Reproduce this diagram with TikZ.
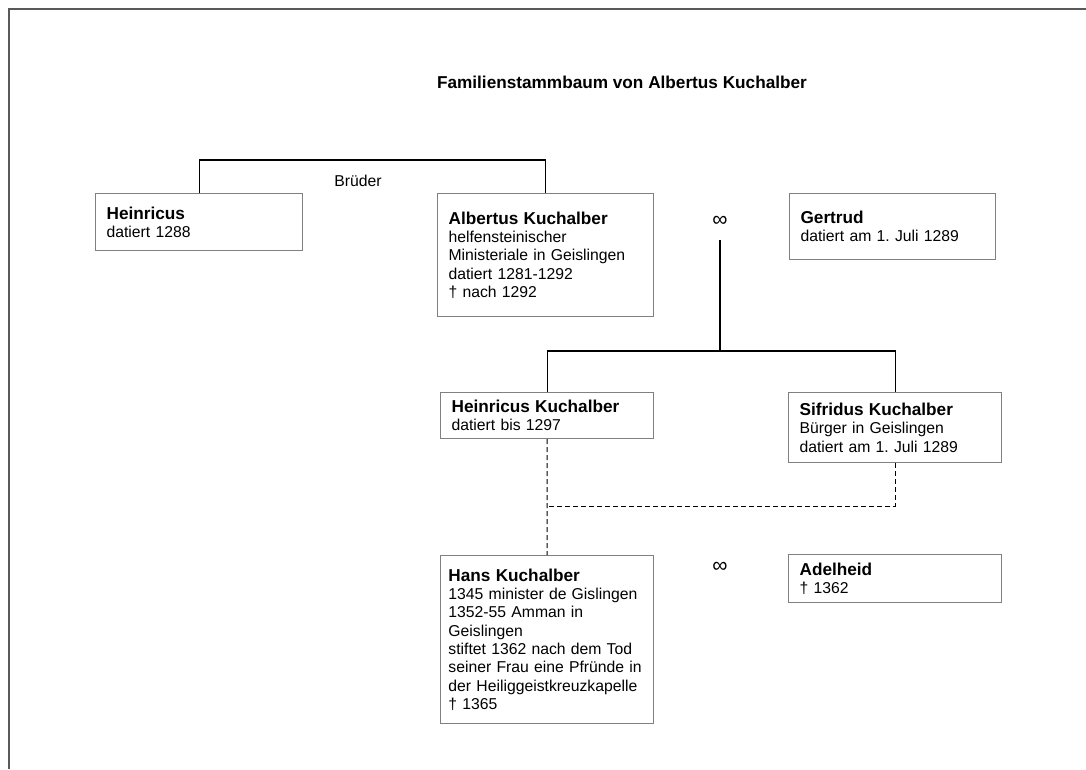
\documentclass[tikz,border=0pt]{standalone}
\usepackage{fontspec}
\setmainfont{Liberation Sans}
\frenchspacing
\newcommand{\nm}[1]{{\bfseries\fontsize{12.9pt}{13.75pt}\selectfont #1}}

\begin{document}
\begin{tikzpicture}[x=0.75pt, y=-0.75pt,
        font=\fontsize{11.8pt}{13.75pt}\selectfont,
        person/.style={draw=black!50, line width=0.9pt, anchor=north west, align=left,
            inner xsep=8.25pt, inner ysep=2pt},
        ehe/.style={font=\fontsize{16pt}{16pt}\selectfont, inner sep=0pt},
        link/.style={line width=0.8pt},
        ahnen/.style={line width=0.8pt, dash pattern=on 3.75pt off 2.25pt}]
            \useasboundingbox (0,0) rectangle (1086,769);
            \draw[black!65, line width=1.5pt] (9,769) -- (9,9) -- (1086,9);
            \node[font=\bfseries\fontsize{12.9pt}{13.75pt}\selectfont] (titel) at (622,82) {Familienstammbaum von Albertus Kuchalber};
            \node[person, text width=138.75pt, minimum height=42.75pt] (heinricus) at (95,193) {\nm{Heinricus}\\datiert 1288};
            \node[person, text width=145.5pt, minimum height=92.25pt] (albertus) at (437,193) {\nm{Albertus Kuchalber}\\helfensteinischer\\Ministeriale in Geislingen\\datiert 1281-1292\\† nach 1292};
            \node[person, text width=138pt, minimum height=49.5pt] (gertrud) at (789,193) {\nm{Gertrud}\\datiert am 1. Juli 1289};
            \node[person, text width=143.25pt, minimum height=34.5pt] (heinricusk) at (440,392) {\nm{Heinricus Kuchalber}\\datiert bis 1297};
            \node[person, text width=143.25pt, minimum height=52.5pt] (sifridus) at (788,392) {\nm{Sifridus Kuchalber}\\Bürger in Geislingen\\datiert am 1. Juli 1289};
            \node[person, text width=148pt, inner xsep=5.9pt, minimum height=126pt] (hans) at (440,555) {\nm{Hans Kuchalber}\\1345 minister de Gislingen\\1352-55 Amman in\\Geislingen\\stiftet 1362 nach dem Tod\\seiner Frau eine Pfründe in\\der Heiliggeistkreuzkapelle\\† 1365};
            \node[person, text width=143.25pt, minimum height=36pt] (adelheid) at (788,554) {\nm{Adelheid}\\† 1362};
            \node (brueder) at (358,181) {Brüder};
            \node[ehe] (ehe1) at (720,221) {∞};
            \node[ehe] (ehe2) at (720,567) {∞};
            \coordinate (kinder) at (720,351);
            \draw[link] (heinricus.north) -- ++(0,-33) -| (albertus.north);
            \draw[link] (ehe1.center) ++(0,19) -- (kinder);
            \draw[link] (heinricusk.north) |- (kinder) -| (sifridus.north);
            \path (heinricusk.south) ++(0,67) coordinate (linie);
            \draw[ahnen] (heinricusk.south) -- (hans.north);
            \draw[ahnen] (sifridus.south) |- (linie);
\end{tikzpicture}
\end{document}
